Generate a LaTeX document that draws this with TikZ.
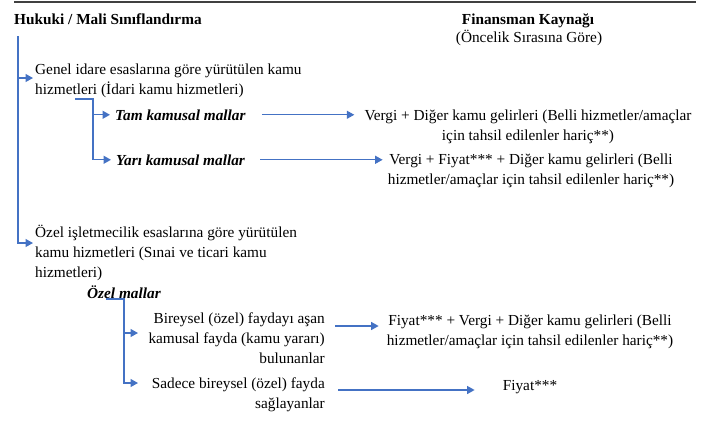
\documentclass[tikz,border=0pt]{standalone}
\usepackage{fontspec}
\setmainfont{Liberation Serif}
\usetikzlibrary{arrows.meta}

\definecolor{linkblue}{HTML}{4472C4}
\newcommand\bodyfont{\fontsize{15.3}{20}\selectfont}

\tikzset{
  every node/.style={inner sep=0pt, font=\bodyfont},
  lbl/.style={align=left, anchor=base west},
  rlbl/.style={align=right, anchor=base east},
  mal/.style={anchor=base west, font=\bodyfont\bfseries\itshape},
  kaynak/.style={align=center, anchor=base},
  arr/.style={draw=linkblue, line width=1.3pt, -{Triangle[length=7.5pt,width=8pt]}},
}

\begin{document}
\begin{tikzpicture}[x=1pt,y=-1pt]
  \useasboundingbox (0,0) rectangle (711,421);
  % header
  \draw[line width=1.6pt, black!75] (14,2) -- (696,2);
  \node[lbl, font=\bodyfont\bfseries] (hukuki) at (14,24) {Hukuki / Mali Sınıflandırma};
  \node[kaynak, font=\bodyfont\bfseries] (finans) at (528,24) {Finansman Kaynağı};
  \node[kaynak] (oncelik) at (529,42) {(Öncelik Sırasına Göre)};

  % idari kamu hizmetleri (base = last line)
  \node[lbl] (genel) at (35,94) {Genel idare esaslarına göre yürütülen kamu\\hizmetleri (İdari kamu hizmetleri)};
  \node[mal] (tam) at (115,120) {Tam kamusal mallar};
  \node[mal] (yari) at (116,165) {Yarı kamusal mallar};
  \node[kaynak] (vergiA) at (528,140) {Vergi + Diğer kamu gelirleri (Belli hizmetler/amaçlar\\için tahsil edilenler hariç**)};
  \node[kaynak] (vergiB) at (531,184) {Vergi + Fiyat*** + Diğer kamu gelirleri (Belli\\hizmetler/amaçlar için tahsil edilenler hariç**)};

  % sinai ve ticari kamu hizmetleri
  \node[lbl] (ozelis) at (35,277) {Özel işletmecilik esaslarına göre yürütülen\\kamu hizmetleri (Sınai ve ticari kamu\\hizmetleri)};
  \node[mal] (ozelmal) at (87,298) {Özel mallar};
  \node[rlbl] (bireysel) at (325,363) {Bireysel (özel) faydayı aşan\\kamusal fayda (kamu yararı)\\bulunanlar};
  \node[rlbl] (sadece) at (325,408) {Sadece bireysel (özel) fayda\\sağlayanlar};
  \node[kaynak] (fiyatA) at (530,345) {Fiyat*** + Vergi + Diğer kamu gelirleri (Belli\\hizmetler/amaçlar için tahsil edilenler hariç**)};
  \node[kaynak] (fiyatB) at (530,390) {Fiyat***};

  % left trunk
  \coordinate (trunk) at (18,36);
  \coordinate (genelin) at (33,78);
  \coordinate (ozelin) at (33,243);
  \draw[arr] (trunk) |- (ozelin);
  \draw[arr] (trunk |- genelin) -- (genelin);

  % brackets
  \coordinate (kolA) at (75,99);
  \coordinate (kolB) at (106,299);
  \coordinate (bireyselin) at (138,333);
  \coordinate (sadecein) at (138,383);
  \draw[arr] (kolA) -- ++(18,0) |- ([xshift=-5pt]yari.west);
  \draw[arr] (kolA) ++(18,0) |- ([xshift=-5pt]tam.west);
  \draw[arr] (kolB) -- ++(18,0) |- (sadecein);
  \draw[arr] (kolB) ++(18,0) |- (bireyselin);

  % to sources
  \coordinate (bireyselout) at (335,326);
  \coordinate (sadeceout) at (338,390);
  \draw[arr, shorten <=16pt, shorten >=10pt] (tam.east) -- (tam.east -| vergiA.west);
  \draw[arr, shorten <=15pt, shorten >=5pt] (yari.east) -- (yari.east -| vergiB.west);
  \draw[arr, shorten >=8pt] (bireyselout) -- (bireyselout -| fiyatA.west);
  \draw[arr, shorten >=28pt] (sadeceout) -- (sadeceout -| fiyatB.west);
\end{tikzpicture}
\end{document}
